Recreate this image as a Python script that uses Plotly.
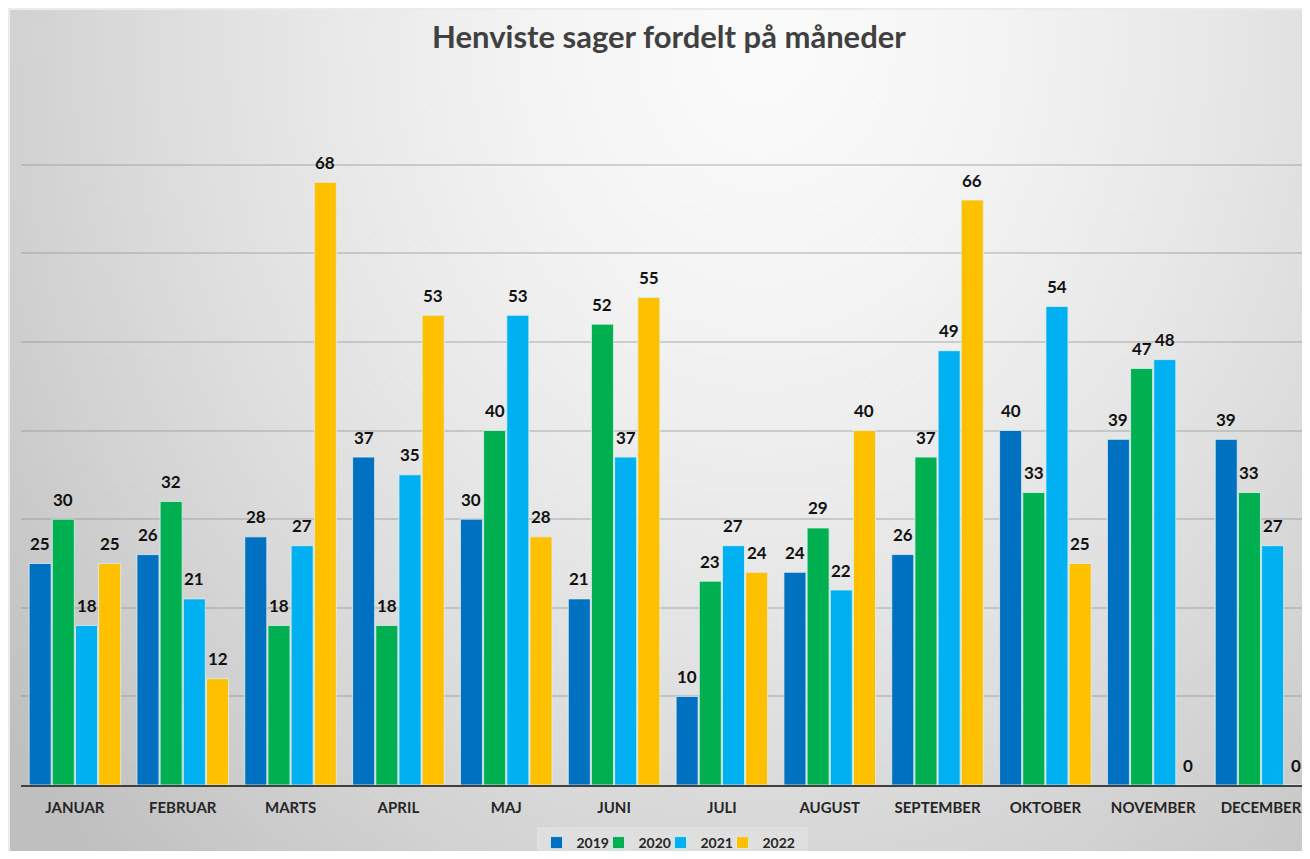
import base64, struct, zlib
import numpy as np
import plotly.graph_objects as go

months = ["JANUAR", "FEBRUAR", "MARTS", "APRIL", "MAJ", "JUNI", "JULI",
          "AUGUST", "SEPTEMBER", "OKTOBER", "NOVEMBER", "DECEMBER"]
v2019 = [25, 26, 28, 37, 30, 21, 10, 24, 26, 40, 39, 39]
v2020 = [30, 32, 18, 18, 40, 52, 23, 29, 37, 33, 47, 33]
v2021 = [18, 21, 27, 35, 53, 37, 27, 22, 49, 54, 48, 27]
v2022 = [25, 12, 68, 53, 28, 55, 24, 40, 66, 25, 0, 0]

series = [("2019", v2019, "#0070C0"), ("2020", v2020, "#00B050"),
          ("2021", v2021, "#00B0F0"), ("2022", v2022, "#FFC000")]

# radial gradient background image
W, H = 160, 100
yy, xx = np.mgrid[0:H, 0:W]
xn = xx / (W - 1)
yn = yy / (H - 1)
d = np.sqrt(((xn - 0.58) / 0.68) ** 2 + ((yn - 0.03) / 1.25) ** 2)
d = np.clip(d, 0, 1.1)
val = np.clip(251 - 52 * d ** 1.5, 0, 255).astype(np.uint8)
raw = b"".join(b"\x00" + bytes(np.repeat(val[r], 3)) for r in range(H))
def chunk(t, data):
    c = struct.pack(">I", len(data)) + t + data
    return c + struct.pack(">I", zlib.crc32(t + data) & 0xffffffff)
png = (b"\x89PNG\r\n\x1a\n" + chunk(b"IHDR", struct.pack(">IIBBBBB", W, H, 8, 2, 0, 0, 0))
       + chunk(b"IDAT", zlib.compress(raw, 9)) + chunk(b"IEND", b""))
img_uri = "data:image/png;base64," + base64.b64encode(png).decode()

FIG_W, FIG_H = 1294, 843
FONT = "Lato"
PLOT_W, PLOT_H = 1281, 709
BOTTOM = 777  # plot bottom in figure px
BARGAP = 0.14
slot = (1 - BARGAP) / len(series)

fig = go.Figure()
annotations = []
for j, (name, vals, col) in enumerate(series):
    fig.add_trace(go.Bar(
        x=months, y=vals, name=name,
        marker=dict(color=col, line=dict(color="rgba(220,240,240,0.8)", width=1)),
        legendwidth=17 if j < 3 else 40,
    ))
    off = (j - (len(series) - 1) / 2) * slot
    for i, v in enumerate(vals):
        annotations.append(dict(
            x=i + off, y=v, xref="x", yref="y", text=str(v), showarrow=False,
            yanchor="middle", yshift=20,
            font=dict(family=FONT, size=17, color="#111111", weight="bold")))

fig.update_layout(
    width=FIG_W, height=FIG_H,
    paper_bgcolor="#ebebeb", plot_bgcolor="rgba(0,0,0,0)",
    margin=dict(l=13, r=0, t=68, b=FIG_H - BOTTOM, autoexpand=False),
    barmode="group", bargap=BARGAP, bargroupgap=0.05,
    title=dict(text="<b>Henviste sager fordelt på måneder</b>", x=(669 - 8) / FIG_W,
               xanchor="center", y=1 - 29 / FIG_H, yanchor="middle",
               font=dict(family=FONT, size=31, color="#404040")),
    showlegend=True,
    legend=dict(orientation="h", x=(672 - 8 - 13) / PLOT_W, xanchor="center",
                y=-(835 - BOTTOM) / PLOT_H, yanchor="middle",
                bgcolor="rgba(228,228,228,0.6)",
                font=dict(family=FONT, size=14, color="#262626", weight="bold"),
                itemwidth=30, traceorder="normal"),
    annotations=annotations,
    images=[dict(source=img_uri, xref="paper", yref="paper",
                 x=-11 / PLOT_W, y=1 + 66 / PLOT_H, sizex=1300 / PLOT_W, sizey=849 / PLOT_H,
                 xanchor="left", yanchor="top", sizing="stretch", layer="below")],
)
fig.update_xaxes(range=[-0.5, 11.38], showline=True, linecolor="#404040", linewidth=2,
                 showgrid=False, ticks="outside", ticklen=8, tickcolor="rgba(0,0,0,0)",
                 tickfont=dict(family=FONT, size=15, color="#262626", weight="bold"))
fig.update_yaxes(range=[0, 80], dtick=10, showticklabels=False, showgrid=True,
                 gridcolor="rgba(140,140,140,0.35)", gridwidth=1.5, zeroline=False,
                 showline=False)

fig.write_html("out.html")
